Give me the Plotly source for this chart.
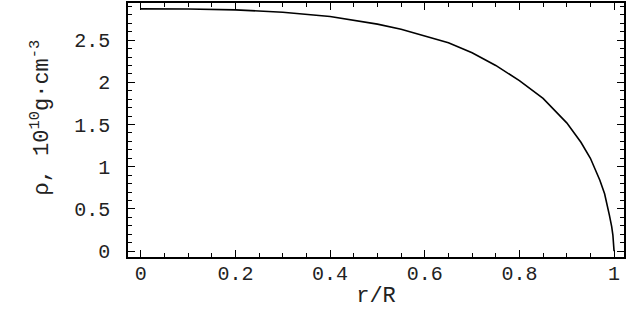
import plotly.graph_objects as go

r_over_R = [0, 0.1, 0.2, 0.3, 0.4, 0.5, 0.55, 0.6, 0.65, 0.7, 0.75, 0.8, 0.85,
            0.9, 0.93, 0.95, 0.96, 0.97, 0.98, 0.985, 0.99, 0.995, 0.9975, 1.0]
rho = [2.87, 2.869, 2.859, 2.83, 2.78, 2.69, 2.63, 2.55, 2.47, 2.35, 2.20, 2.02, 1.81,
       1.52, 1.29, 1.10, 0.98, 0.84, 0.68, 0.57, 0.43, 0.29, 0.19, 0.0]

x_ticks = [0, 0.2, 0.4, 0.6, 0.8, 1]
x_labels = ["0", "0.2", "0.4", "0.6", "0.8", "1"]
y_ticks = [0, 0.5, 1, 1.5, 2, 2.5]
y_labels = ["0", "0.5", "1", "1.5", "2", "2.5"]

mono = "Liberation Mono, Courier New, monospace"

fig = go.Figure(go.Scatter(x=r_over_R, y=rho, mode="lines",
                           line=dict(color="black", width=1.6)))

axis_common = dict(
    showline=True, linecolor="black", linewidth=1.5, mirror="allticks",
    ticks="inside", ticklen=7, tickcolor="black", tickwidth=1,
    showgrid=False, zeroline=False,
    tickfont=dict(family=mono, size=20, color="#222"),
)

fig.update_xaxes(
    range=[-0.027, 1.021], tickvals=x_ticks, ticktext=x_labels,
    minor=dict(dtick=0.05, tick0=0, ticks="inside", ticklen=4, tickcolor="black"),
    ticklabelstandoff=-3,
    title=dict(text="r/R", font=dict(family=mono, size=22, color="#222"), standoff=2),
    **axis_common)
fig.update_yaxes(
    range=[-0.07, 2.94], tickvals=y_ticks, ticktext=y_labels,
    minor=dict(dtick=0.1, tick0=0, ticks="inside", ticklen=4, tickcolor="black"),
    ticklabelstandoff=12,
    **axis_common)

# y title placed by hand: in the original it sits a little above the plot centre
fig.add_annotation(
    text="ρ, 10<sup>10</sup>g·cm<sup>-3</sup>",
    xref="paper", yref="paper", x=-0.177, y=0.55,
    xanchor="center", yanchor="middle", textangle=-90, showarrow=False,
    font=dict(family=mono, size=22, color="#222"))

fig.update_layout(
    width=627, height=328,
    margin=dict(l=128, r=2, t=1, b=71),
    plot_bgcolor="white", paper_bgcolor="white",
    showlegend=False,
)

# page body has a default 8px margin; drop it so the figure sits at the corner
fig.write_html("out.html", config={"displayModeBar": False},
               post_script="document.body.style.margin='0';")
